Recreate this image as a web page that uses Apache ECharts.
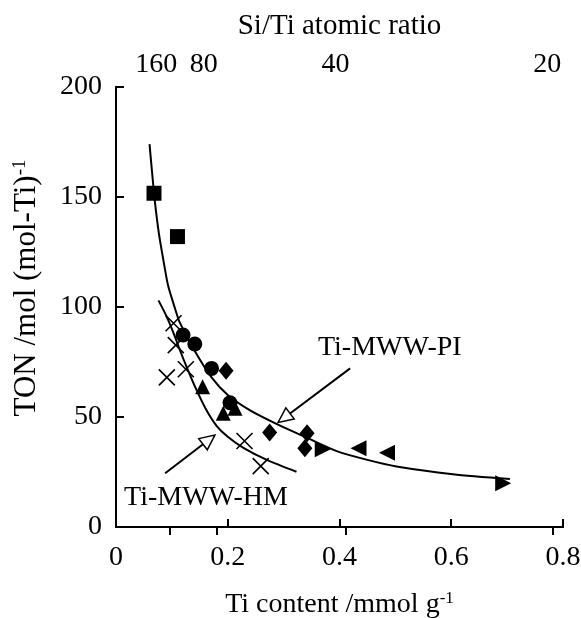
<!DOCTYPE html>
<html>
<head>
<meta charset="utf-8">
<script src="https://cdn.jsdelivr.net/npm/echarts@6/dist/echarts.min.js"></script>
<style>
  html, body { margin: 0; padding: 0; background: #fff; }
  #chart { width: 581px; height: 618px; }
</style>
</head>
<body>
<div id="chart"></div>
<script>
// TON versus Ti content, Ti-MWW samples
const squares = [[0.068, 151.7], [0.110, 132]];
const circles = [[0.120, 87.3], [0.141, 83.2], [0.171, 72.1], [0.204, 56.5]];
const diamonds = [[0.197, 71], [0.275, 43], [0.342, 42.6], [0.338, 35.8]];
const trianglesUp = [[0.155, 63.8], [0.192, 51.7], [0.213, 54]];
const trianglesRight = [[0.370, 35.3], [0.693, 19.9]];
const trianglesLeft = [[0.434, 35.8], [0.485, 33.8]];
const crosses = [[0.103, 92.6], [0.107, 82.7], [0.091, 68], [0.125, 71.7], [0.230, 39.1], [0.259, 27.7]];

// fitted trend lines
const curvePI = [[0.060, 174], [0.065, 160], [0.070, 147], [0.077, 133], [0.085, 121], [0.093, 110],
  [0.106, 99], [0.114, 93], [0.141, 80], [0.171, 68], [0.200, 60], [0.240, 53], [0.290, 46.5],
  [0.342, 40.5], [0.395, 34.5], [0.450, 30.5], [0.502, 27.5], [0.603, 24], [0.705, 21.8]];
const curveHM = [[0.076, 103], [0.090, 96], [0.1025, 88.5], [0.115, 80], [0.126, 73], [0.141, 64],
  [0.160, 54], [0.180, 46], [0.200, 41], [0.228, 36], [0.270, 30.5], [0.323, 25.1]];

// Si/Ti ratio axis (top)
const ratioTickPos = [0.097, 0.181, 0.411, 0.782];
const ratioLabelPos = [0.072, 0.157, 0.393, 0.772];
const ratioLabels = ['160', '80', '40', '20'];

// callouts: [tailX, tailY, tipX, tipY]
const arrowPI = [0.419, 72.1, 0.290, 47.5];
const arrowHM = [0.088, 24.4, 0.177, 41.8];
const calloutTexts = ['Ti-MWW-PI', 'Ti-MWW-HM'];
const calloutPos = [[0.49, 81.4], [0.161, 13.2]];

const FONT = "'Liberation Serif', 'Times New Roman', serif";
const black = '#000';

function scatter(data, symbol, size, rotate) {
  return {
    type: 'scatter', data: data, symbol: symbol, symbolSize: size,
    symbolRotate: rotate || 0,
    itemStyle: { color: black, opacity: 1 }, z: 5
  };
}

function arrowItem(params, api) {
  const tail = api.coord([api.value(0), api.value(1)]);
  const tip = api.coord([api.value(2), api.value(3)]);
  const dx = tip[0] - tail[0], dy = tip[1] - tail[1];
  const len = Math.sqrt(dx * dx + dy * dy);
  const ux = dx / len, uy = dy / len;
  const headLen = 15, headHalf = 7;
  const base = [tip[0] - ux * headLen, tip[1] - uy * headLen];
  const p1 = [base[0] - uy * headHalf, base[1] + ux * headHalf];
  const p2 = [base[0] + uy * headHalf, base[1] - ux * headHalf];
  return {
    type: 'group',
    children: [
      { type: 'line', shape: { x1: tail[0], y1: tail[1], x2: base[0], y2: base[1] },
        style: { stroke: black, lineWidth: 2 } },
      { type: 'polygon', shape: { points: [tip, p1, p2] },
        style: { fill: '#fff', stroke: black, lineWidth: 1.5 } }
    ]
  };
}

const supStyle = { fontFamily: FONT, fontSize: 17, color: black, verticalAlign: 'top', padding: [0, 0, 12, 0] };
const supStyleY = { fontFamily: FONT, fontSize: 19, color: black, verticalAlign: 'top', padding: [0, 0, 13, 0] };

const chart = echarts.init(document.getElementById('chart'), null, { renderer: 'canvas' });
chart.setOption({
  animation: false,
  backgroundColor: '#fff',
  textStyle: { fontFamily: FONT },
  grid: { left: 116, right: 18, top: 87, bottom: 91, containLabel: false, outerBoundsMode: 'none' },
  xAxis: [
    {
      type: 'value', min: 0, max: 0.8, interval: 0.2, position: 'bottom',
      name: 'Ti content /mmol g{sup|-1}', nameLocation: 'middle', nameGap: 63,
      nameTextStyle: { fontFamily: FONT, fontSize: 28, color: black, rich: { sup: supStyle } },
      axisLine: { show: true, lineStyle: { color: black, width: 2 } },
      axisTick: { show: true, inside: true, length: 8, lineStyle: { color: black, width: 2 } },
      axisLabel: { fontFamily: FONT, fontSize: 28, color: black, margin: 17,
        formatter: v => (v === 0 ? '0' : String(+v.toFixed(1))) },
      splitLine: { show: false }
    },
    {
      type: 'value', min: 0, max: 0.8, position: 'top',
      name: 'Si/Ti atomic ratio', nameLocation: 'middle', nameGap: 46,
      nameTextStyle: { fontFamily: FONT, fontSize: 29, color: black },
      axisLine: { show: true, lineStyle: { color: black, width: 2 } },
      axisTick: { show: true, inside: true, length: 8, customValues: ratioTickPos,
        lineStyle: { color: black, width: 2 } },
      axisLabel: { fontFamily: FONT, fontSize: 28, color: black, margin: 8,
        customValues: ratioLabelPos,
        formatter: v => {
          const i = ratioLabelPos.findIndex(p => Math.abs(p - v) < 1e-6);
          return i >= 0 ? ratioLabels[i] : '';
        } },
      splitLine: { show: false }
    }
  ],
  yAxis: [
    {
      type: 'value', min: 0, max: 200, interval: 50, position: 'left',
      name: 'TON /mol (mol-Ti){sup|-1}', nameLocation: 'middle', nameGap: 73, nameRotate: 90,
      nameTextStyle: { fontFamily: FONT, fontSize: 31, color: black, padding: [0, 0, 0, 38],
        rich: { sup: supStyleY } },
      axisLine: { show: true, lineStyle: { color: black, width: 2 } },
      axisTick: { show: true, inside: true, length: 8, lineStyle: { color: black, width: 2 } },
      axisLabel: { fontFamily: FONT, fontSize: 28, color: black, margin: 14 },
      splitLine: { show: false }
    },
    {
      type: 'value', min: 0, max: 200, position: 'right',
      axisLine: { show: true, lineStyle: { color: black, width: 2 } },
      axisTick: { show: false }, axisLabel: { show: false }, splitLine: { show: false }
    }
  ],
  series: [
    { type: 'line', data: curvePI, smooth: 0.25, showSymbol: false, symbol: 'none',
      lineStyle: { color: black, width: 2 }, z: 3 },
    { type: 'line', data: curveHM, smooth: 0.25, showSymbol: false, symbol: 'none',
      lineStyle: { color: black, width: 2 }, z: 3 },
    scatter(squares, 'rect', 15),
    scatter(circles, 'circle', 15),
    scatter(diamonds, 'diamond', [15, 18]),
    scatter(trianglesUp, 'triangle', 15),
    scatter(trianglesRight, 'triangle', 16, -90),
    scatter(trianglesLeft, 'triangle', 16, 90),
    {
      type: 'scatter', data: crosses, symbol: 'path://M0,0L10,10M10,0L0,10', symbolSize: 16,
      itemStyle: { color: 'none', borderColor: black, borderWidth: 1.6, opacity: 1 }, z: 5
    },
    {
      type: 'custom', data: [arrowPI, arrowHM], renderItem: arrowItem, z: 6,
      encode: { x: [0, 2], y: [1, 3] }
    },
    {
      type: 'custom', z: 6,
      data: calloutPos.map((p, i) => [p[0], p[1], i]),
      renderItem: (params, api) => {
        const pt = api.coord([api.value(0), api.value(1)]);
        return {
          type: 'text', x: pt[0], y: pt[1],
          style: { text: calloutTexts[api.value(2)], fill: black, font: '28px ' + FONT,
            align: 'center', verticalAlign: 'middle' }
        };
      }
    }
  ]
});
</script>
</body>
</html>
